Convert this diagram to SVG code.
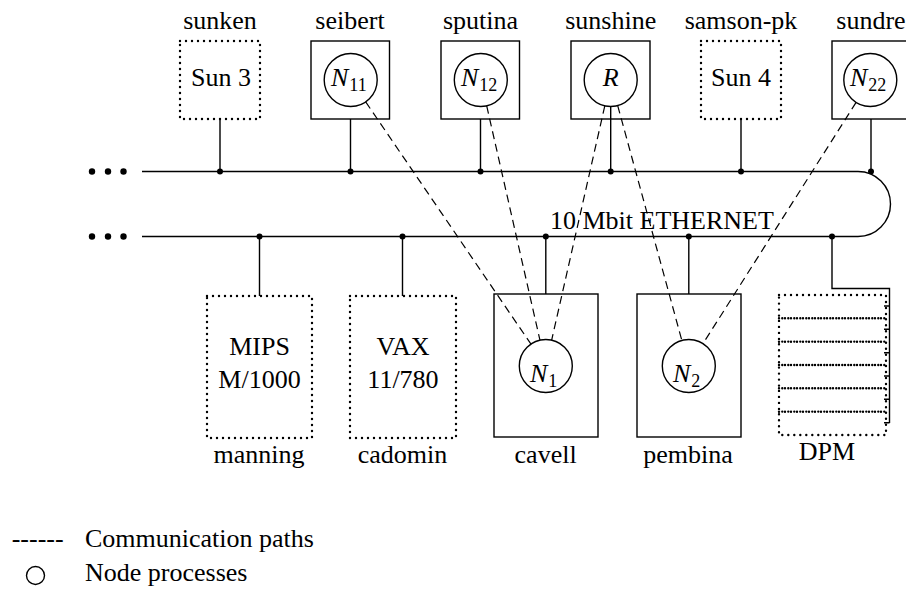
<svg xmlns="http://www.w3.org/2000/svg" width="906" height="589" viewBox="0 0 906 589" font-family="'Liberation Serif', 'DejaVu Serif', serif" font-size="26">
<style>
.s{fill:none;stroke:#000;stroke-width:1.4}
.d{fill:none;stroke:#000;stroke-width:2.4;stroke-dasharray:0 6;stroke-linecap:round}
.c{fill:#fff;stroke:#000;stroke-width:1.4}
.k{fill:none;stroke:#000;stroke-width:1.2;stroke-dasharray:8 5}
.j{fill:#000}
text{font-family:'Liberation Serif','DejaVu Serif',serif;font-size:26px;fill:#000}
.m{text-anchor:middle}
.i{font-style:italic}
.sub{font-size:18px;font-style:normal}
</style>
<rect width="906" height="589" fill="#fff"/>
<g id="connectors">
  <path class="s" d="M142,171.5 H858 A32.5,32.5 0 0 1 858,236.5 H142"/>
  <path class="s" d="M220,119 V171.5 M350.5,119 V171.5 M480.5,119 V171.5 M610.7,106.5 V171.5 M741,119 V171.5 M871,119 V171.5"/>
  <path class="s" d="M259.5,236.5 V296 M402.5,236.5 V296 M545.8,236.5 V294 M688.8,236.5 V294"/>
  <path class="s" d="M832,236.5 V288.5 H889.5 V423 M884,306 H889.5 M884,329.3 H889.5 M884,352.7 H889.5 M884,376 H889.5 M884,399.3 H889.5 M884,422.7 H889.5"/>
  <g class="j">
    <circle cx="220" cy="171.5" r="3"/><circle cx="350.5" cy="171.5" r="3"/><circle cx="480.5" cy="171.5" r="3"/><circle cx="610.7" cy="171.5" r="3"/><circle cx="741" cy="171.5" r="3"/><circle cx="871" cy="171.5" r="3"/>
    <circle cx="259.5" cy="236.5" r="3"/><circle cx="402.5" cy="236.5" r="3"/><circle cx="545.8" cy="236.5" r="3"/><circle cx="688.8" cy="236.5" r="3"/><circle cx="832" cy="236.5" r="3"/>
    <circle cx="92" cy="171.5" r="3.2"/><circle cx="108" cy="171.5" r="3.2"/><circle cx="123.5" cy="171.5" r="3.2"/>
    <circle cx="92" cy="236.5" r="3.2"/><circle cx="108" cy="236.5" r="3.2"/><circle cx="123.5" cy="236.5" r="3.2"/>
  </g>
  <path class="k" d="M365.7,101.9 L531,344.2"/>
  <path class="k" d="M486.7,105.9 L540,340.4"/>
  <path class="k" d="M604.8,105.9 L551.6,340.4"/>
  <path class="k" d="M617.7,105.6 L681.9,340.6"/>
  <path class="k" d="M856.1,102.4 L702.9,343.8"/>
  <text x="550" y="229">10 Mbit ETHERNET</text>
</g>
<g id="sunken">
  <rect class="d" x="180" y="41" width="80" height="78"/>
  <text class="m" x="220" y="29">sunken</text>
  <text class="m" x="221" y="86">Sun 3</text>
</g>
<g id="seibert">
  <rect class="s" x="311" y="41" width="78.5" height="78"/>
  <circle class="c" cx="350.7" cy="80" r="26.5"/>
  <text class="m" x="350" y="29">seibert</text>
  <text x="331" y="86" class="i">N<tspan class="sub" dy="4.5" dx="1">11</tspan></text>
</g>
<g id="sputina">
  <rect class="s" x="441" y="41" width="78.5" height="78"/>
  <circle class="c" cx="480.8" cy="80" r="26.5"/>
  <text class="m" x="480.5" y="29">sputina</text>
  <text x="461" y="86" class="i">N<tspan class="sub" dy="4.5" dx="1">12</tspan></text>
</g>
<g id="sunshine">
  <rect class="s" x="571" y="41" width="79" height="78"/>
  <circle class="c" cx="610.7" cy="80" r="26.5"/>
  <text class="m" x="610.7" y="29">sunshine</text>
  <text class="m i" x="610.7" y="86">R</text>
</g>
<g id="samson-pk">
  <rect class="d" x="701" y="41" width="80" height="78"/>
  <text class="m" x="741" y="29">samson-pk</text>
  <text class="m" x="741" y="86">Sun 4</text>
</g>
<g id="sundre">
  <rect class="s" x="832" y="41" width="80" height="78"/>
  <circle class="c" cx="870.3" cy="80" r="26.5"/>
  <text class="m" x="871" y="29">sundre</text>
  <text x="850" y="86" class="i">N<tspan class="sub" dy="4.5" dx="1">22</tspan></text>
</g>
<g id="manning">
  <rect class="d" x="207" y="296" width="105" height="142"/>
  <text class="m" x="259.5" y="355">MIPS</text>
  <text class="m" x="259.5" y="388">M/1000</text>
  <text class="m" x="259" y="463">manning</text>
</g>
<g id="cadomin">
  <rect class="d" x="350" y="296" width="106" height="142"/>
  <text class="m" x="403" y="355">VAX</text>
  <text class="m" x="403" y="388">11/780</text>
  <text class="m" x="402.5" y="463">cadomin</text>
</g>
<g id="cavell">
  <rect class="s" x="494" y="294" width="104" height="143"/>
  <circle class="c" cx="545.8" cy="366" r="26.5"/>
  <text x="530" y="382" class="i">N<tspan class="sub" dy="4.5" dx="1">1</tspan></text>
  <text class="m" x="545.6" y="463">cavell</text>
</g>
<g id="pembina">
  <rect class="s" x="637" y="294" width="104" height="143"/>
  <circle class="c" cx="688.8" cy="366" r="26.5"/>
  <text x="673" y="382" class="i">N<tspan class="sub" dy="4.5" dx="1">2</tspan></text>
  <text class="m" x="688" y="463">pembina</text>
</g>
<g id="DPM">
  <rect class="d" x="779" y="295" width="107" height="23.3"/>
  <rect class="d" x="779" y="318.3" width="107" height="23.3"/>
  <rect class="d" x="779" y="341.7" width="107" height="23.3"/>
  <rect class="d" x="779" y="365" width="107" height="23.3"/>
  <rect class="d" x="779" y="388.3" width="107" height="23.3"/>
  <rect class="d" x="779" y="411.7" width="107" height="23.3"/>
  <text class="m" x="827" y="460">DPM</text>
</g>
<g id="legend">
  <text x="11.7" y="547">------</text>
  <text x="85" y="547">Communication paths</text>
  <circle cx="35.5" cy="575.5" r="9" class="s"/>
  <text x="85" y="581">Node processes</text>
</g>
</svg>
